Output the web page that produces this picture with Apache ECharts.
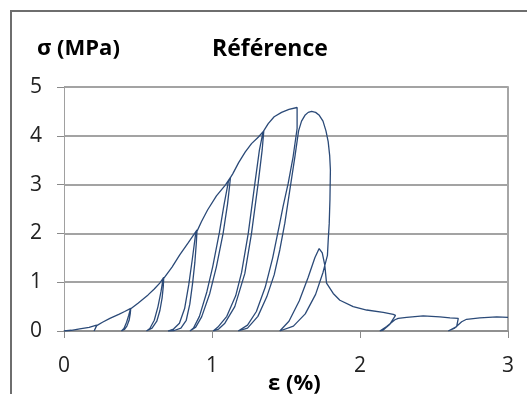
<!DOCTYPE html>
<html>
<head>
<meta charset="utf-8">
<script src="https://cdn.jsdelivr.net/npm/echarts@6/dist/echarts.min.js"></script>
<style>html,body{margin:0;padding:0;background:#fff}#c{width:527px;height:394px}</style>
</head>
<body>
<div id="c"></div>
<script>
// Strain (%) and stress (MPa)
var strain = [0,0.05,0.106,0.17,0.22,0.212,0.203,0.212,0.221,0.26,0.31,0.37,0.41,0.451,0.448,0.44,0.425,0.408,0.388,0.405,0.423,0.437,0.449,0.50,0.568,0.61,0.647,0.674,0.671,0.663,0.648,0.627,0.595,0.557,0.58,0.61,0.635,0.655,0.669,0.73,0.782,0.84,0.899,0.894,0.884,0.869,0.85,0.826,0.79,0.745,0.703,0.74,0.78,0.815,0.843,0.866,0.889,0.93,0.97,1.03,1.09,1.125,1.118,1.105,1.075,1.03,0.985,0.93,0.89,0.851,0.875,0.915,0.965,1.005,1.05,1.082,1.112,1.14,1.18,1.225,1.267,1.312,1.35,1.339,1.312,1.267,1.222,1.154,1.087,1.045,1.008,1.04,1.10,1.16,1.20,1.245,1.29,1.32,1.345,1.38,1.42,1.47,1.52,1.575,1.575,1.548,1.515,1.48,1.458,1.41,1.36,1.30,1.24,1.177,1.24,1.31,1.37,1.42,1.458,1.492,1.526,1.56,1.585,1.605,1.628,1.65,1.673,1.70,1.725,1.75,1.77,1.785,1.795,1.80,1.797,1.792,1.785,1.78,1.75,1.70,1.63,1.55,1.458,1.52,1.59,1.65,1.695,1.724,1.745,1.762,1.774,1.819,1.864,1.954,2.045,2.157,2.225,2.24,2.202,2.157,2.134,2.18,2.236,2.258,2.315,2.427,2.54,2.608,2.664,2.675,2.653,2.596,2.64,2.687,2.72,2.81,2.924,3.0];
var stress = [0,0.015,0.045,0.075,0.12,0.05,0,0.04,0.11,0.18,0.26,0.34,0.40,0.465,0.36,0.22,0.1,0.03,0,0.05,0.18,0.32,0.45,0.57,0.74,0.86,0.98,1.10,0.92,0.68,0.42,0.2,0.06,0,0.05,0.22,0.5,0.8,1.06,1.31,1.56,1.81,2.07,1.8,1.4,0.98,0.55,0.22,0.06,0.01,0,0.04,0.16,0.46,0.95,1.45,1.98,2.25,2.48,2.77,2.99,3.15,2.95,2.6,2.0,1.32,0.77,0.29,0.08,0,0.06,0.3,0.8,1.32,2.02,2.6,3.08,3.22,3.45,3.67,3.84,3.97,4.10,3.71,3.03,2.0,1.18,0.5,0.16,0.04,0,0.08,0.3,0.72,1.2,2.0,3.03,3.7,4.08,4.25,4.39,4.48,4.54,4.58,4.15,3.57,3.03,2.55,2.21,1.5,0.9,0.4,0.12,0,0.06,0.3,0.7,1.15,1.66,2.21,2.89,3.57,4.1,4.3,4.42,4.48,4.50,4.48,4.42,4.3,4.1,3.88,3.6,3.3,2.7,2.2,1.85,1.55,1.2,0.75,0.35,0.1,0,0.2,0.62,1.1,1.5,1.69,1.6,1.35,0.98,0.77,0.63,0.50,0.43,0.38,0.34,0.32,0.14,0.02,0,0.09,0.23,0.26,0.28,0.31,0.29,0.27,0.26,0.24,0.09,0,0.06,0.19,0.24,0.27,0.29,0.28];
var xTicks = [0, 1, 2, 3];
var yTicks = [0, 1, 2, 3, 4, 5];
var chartTitle = 'Référence';
var yName = 'σ (MPa)';
var xName = 'ε (%)';

var points = strain.map(function (x, i) { return [x, stress[i]]; });
var FONT = "'Open Sans', 'Noto Sans', sans-serif";
var chart = echarts.init(document.getElementById('c'), null, {renderer: 'canvas'});
chart.setOption({
  animation: false,
  backgroundColor: '#ffffff',
  title: [
    {text: chartTitle, left: 212, top: 38, padding: 0, textStyle: {fontFamily: FONT, fontSize: 23, fontWeight: 'bold', color: '#000'}},
    {text: yName, left: 37, top: 38, padding: 0, textStyle: {fontFamily: FONT, fontSize: 22, fontWeight: 'bold', color: '#000'}},
    {text: xName, left: 268, top: 373, padding: 0, textStyle: {fontFamily: FONT, fontSize: 22, fontWeight: 'bold', color: '#000'}}
  ],
  graphic: [
    {type: 'rect', shape: {x: 11, y: 11, width: 600, height: 600}, style: {fill: 'none', stroke: '#6e6e6e', lineWidth: 2}, silent: true}
  ],
  grid: {left: 64, right: 19, top: 87, bottom: 63, containLabel: false},
  xAxis: {
    type: 'value', min: xTicks[0], max: xTicks[xTicks.length - 1], interval: 1,
    axisLine: {show: true, lineStyle: {color: '#8a8a8a', width: 1.5}},
    axisTick: {show: true, inside: false, length: 7, lineStyle: {color: '#8a8a8a'}},
    axisLabel: {margin: 25, fontFamily: FONT, fontSize: 21, color: '#222'},
    splitLine: {show: false}
  },
  yAxis: [{
    type: 'value', min: yTicks[0], max: yTicks[yTicks.length - 1], interval: 1,
    axisLine: {show: true, lineStyle: {color: '#a0a0a0', width: 1}},
    axisTick: {show: true, inside: false, length: 7, lineStyle: {color: '#8a8a8a'}},
    axisLabel: {margin: 22, fontFamily: FONT, fontSize: 21, color: '#222'},
    splitLine: {show: true, lineStyle: {color: '#858585', width: 1.5}}
  }, {
    type: 'value', position: 'right', min: 0, max: 5, interval: 1,
    axisLine: {show: true, lineStyle: {color: '#a6a6a6', width: 2}},
    axisTick: {show: false}, axisLabel: {show: false}, splitLine: {show: false}
  }],
  series: [{
    type: 'line', data: points, showSymbol: false, smooth: false,
    lineStyle: {color: '#2b4a78', width: 1.3}, clip: true
  }]
});
</script>
</body>
</html>
